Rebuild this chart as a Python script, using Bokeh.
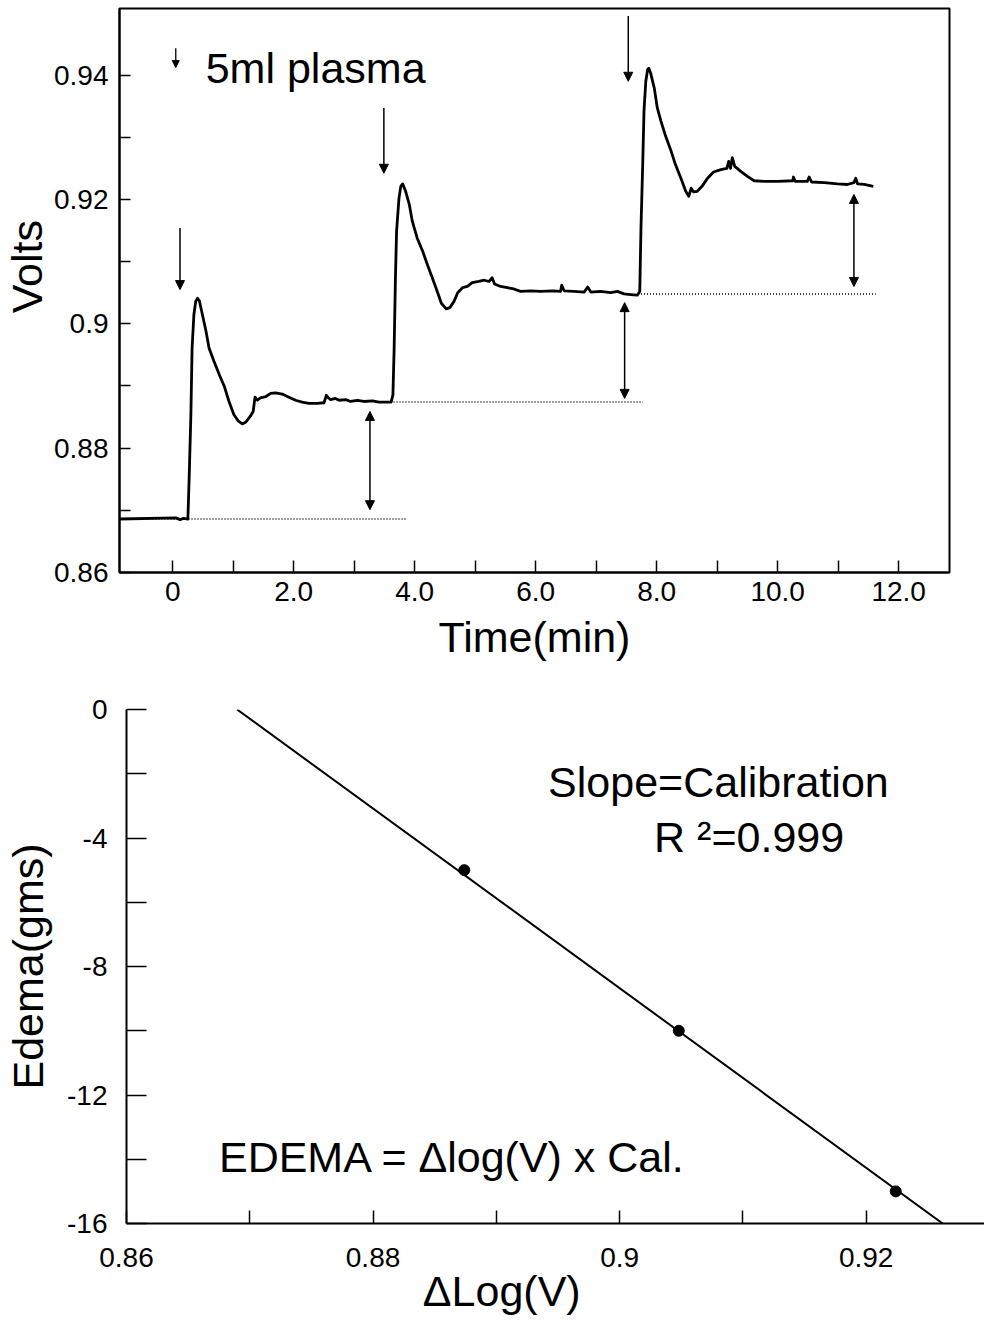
from bokeh.embed import file_html
from bokeh.layouts import column
from bokeh.models import Arrow, FixedTicker, Label, NormalHead, Range1d
from bokeh.plotting import figure
from bokeh.resources import INLINE

FONT = "Liberation Sans"
NBSP = "\u00a0"

# ---- recorded voltage trace (time in minutes, volts) ----
trace_t = [-0.88, 0.05, 0.12, 0.18, 0.25, 0.27, 0.30, 0.32, 0.35, 0.38, 0.41, 0.44,
           0.49, 0.55, 0.60, 0.68, 0.77, 0.85, 0.93, 1.01, 1.08, 1.15, 1.21, 1.28,
           1.33, 1.36, 1.40, 1.45, 1.54, 1.62, 1.70, 1.81, 1.92, 2.03, 2.14, 2.25,
           2.39, 2.50, 2.54, 2.57, 2.61, 2.69, 2.75, 2.86, 2.94, 3.05, 3.16, 3.30,
           3.41, 3.52, 3.61,
           3.64, 3.66, 3.68, 3.70, 3.74, 3.77, 3.80, 3.85, 3.91, 3.96, 4.04, 4.13,
           4.21, 4.29, 4.38, 4.44, 4.52, 4.58, 4.65, 4.71, 4.79, 4.87, 4.95, 5.06,
           5.15, 5.23, 5.28, 5.32, 5.42, 5.53, 5.64, 5.75, 5.92, 6.08, 6.28, 6.41,
           6.43, 6.47, 6.63, 6.80, 6.86, 6.91, 7.07, 7.24, 7.35, 7.46, 7.57, 7.68,
           7.72, 7.74, 7.77, 7.79, 7.82, 7.85, 7.87, 7.90, 7.96, 8.01, 8.07, 8.15,
           8.23, 8.31, 8.40, 8.48, 8.53, 8.57, 8.61, 8.67, 8.75, 8.84, 8.94, 9.06,
           9.16, 9.19, 9.22, 9.25, 9.29, 9.39, 9.50, 9.61, 9.78, 10.00, 10.25,
           10.26, 10.29, 10.49, 10.52, 10.56, 10.77, 10.99, 11.15, 11.26, 11.29,
           11.32, 11.43, 11.58]
trace_v = [0.8686, 0.8688, 0.8685, 0.8687, 0.8686, 0.8747, 0.8854, 0.8961, 0.9015,
           0.9036, 0.9041, 0.9037, 0.9015, 0.8988, 0.8961, 0.8940, 0.8918, 0.8900,
           0.8875, 0.8854, 0.8844, 0.8839, 0.8842, 0.8851, 0.8859, 0.8882, 0.8877,
           0.8881, 0.8883, 0.8888, 0.8889, 0.8887, 0.8882, 0.8877, 0.8874, 0.8872,
           0.8872, 0.8873, 0.8885, 0.8881, 0.8878, 0.8880, 0.8877, 0.8878, 0.8875,
           0.8877, 0.8875, 0.8876, 0.8874, 0.8874, 0.8874,
           0.8886, 0.8961, 0.9068, 0.9149, 0.9202, 0.9221, 0.9225, 0.9213, 0.9192,
           0.9165, 0.9138, 0.9117, 0.9095, 0.9074, 0.9050, 0.9033, 0.9024, 0.9026,
           0.9036, 0.9050, 0.9058, 0.9060, 0.9066, 0.9068, 0.9070, 0.9068, 0.9074,
           0.9064, 0.9060, 0.9058, 0.9056, 0.9052, 0.9053, 0.9052, 0.9053, 0.9052,
           0.9062, 0.9053, 0.9052, 0.9051, 0.9059, 0.9051, 0.9052, 0.9050, 0.9052,
           0.9048, 0.9047, 0.9046,
           0.9052, 0.9154, 0.9261, 0.9342, 0.9390, 0.9409, 0.9411, 0.9403, 0.9379,
           0.9347, 0.9326, 0.9301, 0.9280, 0.9256, 0.9234, 0.9213, 0.9205, 0.9218,
           0.9212, 0.9213, 0.9221, 0.9234, 0.9244, 0.9248, 0.9250, 0.9261, 0.9250,
           0.9267, 0.9253, 0.9245, 0.9237, 0.9230, 0.9229, 0.9229, 0.9230, 0.9236,
           0.9229, 0.9229, 0.9236, 0.9228, 0.9227, 0.9225, 0.9224, 0.9227, 0.9234,
           0.9225, 0.9224, 0.9221]

# plateau levels and the span over which each reference line is drawn
plateau_v = [0.8686, 0.8874, 0.9048]
plateau_t0 = [-0.88, 3.60, 7.74]
plateau_t1 = [3.87, 7.77, 11.62]

# injection markers (5 ml plasma each)
inject_t = [0.12, 3.49, 7.53]
inject_top = [0.9154, 0.9347, 0.9495]
inject_tip = [0.9055, 0.9242, 0.9390]

# double-headed arrows showing each voltage step
step_t = [3.26, 7.47, 11.26]
step_lo = [0.8701, 0.8880, 0.9060]
step_hi = [0.8859, 0.9034, 0.9208]

# ---- calibration ----
cal_volts = [0.8686, 0.8874, 0.9048, 0.9224]
cal_edema = [0, -5, -10, -15]

# tick definitions
top_x_ticks = [0, 2, 4, 6, 8, 10, 12]
top_x_minor = [1, 3, 5, 7, 9, 11]
top_x_labels = ["0", "2.0", "4.0", "6.0", "8.0", "10.0", "12.0"]
top_y_ticks = [0.86, 0.88, 0.9, 0.92, 0.94]
top_y_minor = [0.87, 0.89, 0.91, 0.93]
top_y_labels = ["0.86", "0.88", "0.9", "0.92", "0.94"]
bot_x_ticks = [0.86, 0.88, 0.9, 0.92]
bot_x_minor = [0.87, 0.89, 0.91]
bot_x_labels = ["0.86", "0.88", "0.9", "0.92"]
bot_y_ticks = [0, -4, -8, -12, -16]
bot_y_minor = [-2, -6, -10, -14]
bot_y_labels = ["0", "-4", "-8", "-12", "-16"]


def style_axis(ax, ticks, minor, labels, tick_len, standoff, title, title_standoff):
    ax.ticker = FixedTicker(ticks=ticks, minor_ticks=minor)
    ax.major_label_overrides = dict(zip(ticks, labels))
    ax.axis_line_width = 2
    ax.axis_line_color = "black"
    ax.major_tick_in = tick_len
    ax.major_tick_out = 0
    ax.minor_tick_in = tick_len
    ax.minor_tick_out = 0
    ax.major_tick_line_width = 1.5
    ax.minor_tick_line_width = 1.5
    ax.major_tick_line_color = "black"
    ax.minor_tick_line_color = "black"
    ax.major_label_text_font = FONT
    ax.major_label_text_font_size = "28px"
    ax.major_label_text_color = "black"
    ax.major_label_standoff = standoff
    ax.axis_label = title
    ax.axis_label_text_font = FONT
    ax.axis_label_text_font_style = "normal"
    ax.axis_label_text_font_size = "43px"
    ax.axis_label_text_color = "black"
    ax.axis_label_standoff = title_standoff


def note(x, y, text):
    return Label(x=x, y=y, text=text, text_font=FONT, text_font_size="43px",
                 text_color="black", text_baseline="alphabetic")


def head(size=9):
    return NormalHead(size=size, fill_color="black", line_color="black", line_width=1)


# ================= voltage trace =================
p1 = figure(width=984, height=680, output_backend="svg", toolbar_location=None,
            x_range=Range1d(-0.88, 12.84), y_range=Range1d(0.86, 0.9507),
            min_border_left=119, min_border_right=35, min_border_top=8,
            min_border_bottom=108)
p1.frame_align = False
p1.grid.visible = False
p1.outline_line_color = "black"
p1.outline_line_width = 2
style_axis(p1.xaxis[0], top_x_ticks, top_x_minor, top_x_labels, 12, 9, "Time(min)", 9)
style_axis(p1.yaxis[0], top_y_ticks, top_y_minor, top_y_labels, 11, 11,
           NBSP * 4 + "Volts", 0)

for v, t0, t1 in zip(plateau_v, plateau_t0, plateau_t1):
    p1.line([t0, t1], [v, v], line_color="black", line_width=1.5, line_dash="1 2")

p1.line(trace_t, trace_v, line_color="black", line_width=2.8, line_join="round")

for t, y0, y1 in zip(inject_t, inject_top, inject_tip):
    p1.add_layout(Arrow(x_start=t, y_start=y0, x_end=t, y_end=y1, line_width=1.5,
                        end=head()))

for t, y0, y1 in zip(step_t, step_lo, step_hi):
    p1.add_layout(Arrow(x_start=t, y_start=y0, x_end=t, y_end=y1, line_width=1.5,
                        start=head(), end=head()))

# key: small arrow + text
p1.add_layout(Arrow(x_start=0.05, y_start=0.9443, x_end=0.05, y_end=0.9412,
                    line_width=1.3, end=head(7)))
p1.add_layout(note(0.545, 0.9411, "5ml plasma"))

# ================= calibration =================
n = len(cal_volts)
mx = sum(cal_volts) / n
my = sum(cal_edema) / n
slope = sum((x - mx) * (y - my) for x, y in zip(cal_volts, cal_edema)) / \
    sum((x - mx) ** 2 for x in cal_volts)
fit_y = [0, -16]
fit_x = [mx + (y - my) / slope for y in fit_y]

p2 = figure(width=984, height=642, output_backend="svg", toolbar_location=None,
            x_range=Range1d(0.86, 0.9296), y_range=Range1d(-16, 0),
            min_border_left=126, min_border_right=0, min_border_top=29,
            min_border_bottom=99)
p2.frame_align = False
p2.grid.visible = False
p2.outline_line_color = None
style_axis(p2.xaxis[0], bot_x_ticks, bot_x_minor, bot_x_labels, 13, 24,
           "ΔLog(V)" + NBSP * 9, -3)
style_axis(p2.yaxis[0], bot_y_ticks, bot_y_minor, bot_y_labels, 20, 19, "Edema(gms)", 12)

p2.line(fit_x, fit_y, line_color="black", line_width=2)
p2.scatter(cal_volts[1:], cal_edema[1:], size=11, color="black")

p2.add_layout(note(0.8942, -2.26, "Slope=Calibration"))
p2.add_layout(note(0.9028, -3.97, "R ²=0.999"))
p2.add_layout(note(0.8675, -13.94, "EDEMA = Δlog(V) x Cal."))

layout = column(p1, p2)
open("out.html", "w").write(file_html(layout, INLINE))
